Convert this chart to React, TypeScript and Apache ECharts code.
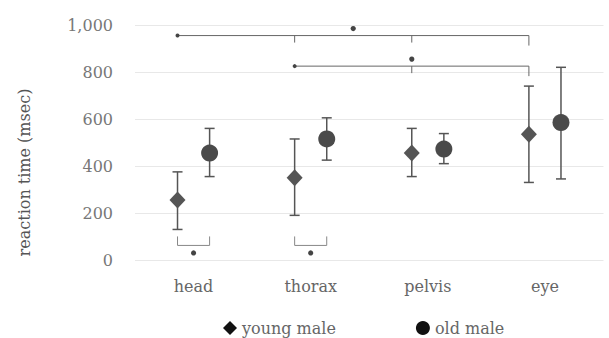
import React, { useEffect, useRef } from "react";
import * as echarts from "echarts";

const categories = ["head", "thorax", "pelvis", "eye"];
const youngMean = [255, 350, 455, 535];
const youngLow = [130, 190, 355, 330];
const youngHigh = [375, 515, 560, 740];
const oldMean = [455, 515, 472, 585];
const oldLow = [355, 425, 410, 345];
const oldHigh = [560, 605, 538, 820];
const yTicks = [0, 200, 400, 600, 800, 1000];

// significance brackets between young-male groups
const bracketFrom = [0, 1];
const bracketTo = [3, 3];
const bracketLevel = [955, 825];
// young vs old within a category
const pairCats = [0, 1];
const pairLevel = 62;

const FONT = "DejaVu Serif";
const OFF = 0.137;

function errorSeries(name: string, mean: number[], lo: number[], hi: number[], sign: number, shape: string, color: string) {
  return {
    type: "custom",
    name,
    data: mean.map((m, i) => [i, m, lo[i], hi[i]]),
    encode: { x: 0, y: [1, 2, 3] },
    itemStyle: { color },
    renderItem: (params: any, api: any) => {
      const cat = api.value(0);
      const pm = api.coord([cat, api.value(1)]);
      const pl = api.coord([cat, api.value(2)]);
      const ph = api.coord([cat, api.value(3)]);
      const band = api.size([1, 0])[0];
      const x = pm[0] + sign * band * OFF;
      const y = pm[1];
      const stroke = { stroke: "#555", lineWidth: 1.5 };
      const cap = 5;
      const marker =
        shape === "diamond"
          ? { type: "polygon", shape: { points: [[x, y - 8.5], [x + 8, y], [x, y + 8.5], [x - 8, y]] }, style: { fill: color } }
          : { type: "circle", shape: { cx: x, cy: y, r: 8.5 }, style: { fill: color } };
      return {
        type: "group",
        children: [
          { type: "line", shape: { x1: x, y1: pl[1], x2: x, y2: ph[1] }, style: stroke },
          { type: "line", shape: { x1: x - cap, y1: pl[1], x2: x + cap, y2: pl[1] }, style: stroke },
          { type: "line", shape: { x1: x - cap, y1: ph[1], x2: x + cap, y2: ph[1] }, style: stroke },
          marker,
        ],
      };
    },
  };
}

export default function App() {
  const ref = useRef<HTMLDivElement>(null);
  useEffect(() => {
    if (!ref.current) return;
    const chart = echarts.init(ref.current, null, { renderer: "svg" });
    const lineStyle = { stroke: "#666", lineWidth: 1 };
    const star = (x: number, y: number) => ({
      type: "circle",
      shape: { cx: x, cy: y, r: 2.6 },
      style: { fill: "#444" },
    });
    chart.setOption({
      animation: false,
      grid: { left: 135, right: 5.5, top: 25, bottom: 78 },
      legend: {
        left: 218,
        top: 315,
        itemWidth: 14,
        itemHeight: 14,
        itemGap: 80,
        textStyle: { fontFamily: FONT, fontSize: 16, color: "#666" },
        data: [
          { name: "young male", icon: "diamond", itemStyle: { color: "#111" } },
          { name: "old male", icon: "circle", itemStyle: { color: "#111" } },
        ],
      },
      xAxis: {
        type: "category",
        data: categories,
        axisLine: { show: false },
        axisTick: { show: false },
        axisLabel: { fontFamily: FONT, fontSize: 16, color: "#666", margin: 18 },
      },
      yAxis: {
        type: "value",
        min: 0,
        max: 1000,
        interval: 200,
        name: "reaction time (msec)",
        nameLocation: "middle",
        nameGap: 103,
        nameTextStyle: { fontFamily: FONT, fontSize: 16, color: "#555", padding: [0, 60, 0, 0] },
        axisLine: { show: false },
        axisTick: { show: false },
        splitLine: { lineStyle: { color: "#e8e8e8", width: 1 } },
        axisLabel: {
          fontFamily: FONT,
          fontSize: 16,
          color: "#777",
          margin: 22,
          formatter: (v: number) => (yTicks.includes(v) ? v.toLocaleString("en-US") : ""),
        },
      },
      series: [
        errorSeries("young male", youngMean, youngLow, youngHigh, -1, "diamond", "#555"),
        errorSeries("old male", oldMean, oldLow, oldHigh, 1, "circle", "#4a4a4a"),
        {
          type: "custom",
          name: "brackets",
          silent: true,
          data: bracketFrom.map((f, i) => [f, bracketLevel[i]]),
          encode: { x: 0, y: 1 },
          renderItem: (params: any, api: any) => {
            const i = params.dataIndex;
            const band = api.size([1, 0])[0];
            const p0 = api.coord([bracketFrom[i], bracketLevel[i]]);
            const p1 = api.coord([bracketTo[i], bracketLevel[i]]);
            const x0 = p0[0] - band * OFF;
            const x1 = p1[0] - band * OFF;
            const y = p0[1];
            const children: any[] = [
              { type: "line", shape: { x1: x0, y1: y, x2: x1, y2: y }, style: lineStyle },
              { type: "circle", shape: { cx: x0, cy: y, r: 2 }, style: { fill: "#444" } },
            ];
            for (let c = bracketFrom[i] + 1; c <= bracketTo[i]; c++) {
              const px = api.coord([c, bracketLevel[i]])[0] - band * OFF;
              const len = c === bracketTo[i] ? 10 : 7;
              children.push({ type: "line", shape: { x1: px, y1: y, x2: px, y2: y + len }, style: lineStyle });
            }
            children.push(star((x0 + x1) / 2, y - 7));
            return { type: "group", children };
          },
        },
        {
          type: "custom",
          name: "pairs",
          silent: true,
          data: pairCats.map((c) => [c, pairLevel]),
          encode: { x: 0, y: 1 },
          renderItem: (params: any, api: any) => {
            const band = api.size([1, 0])[0];
            const p = api.coord([api.value(0), api.value(1)]);
            const x0 = p[0] - band * OFF;
            const x1 = p[0] + band * OFF;
            const y = p[1];
            const ls = { stroke: "#888", lineWidth: 1 };
            return {
              type: "group",
              children: [
                { type: "line", shape: { x1: x0, y1: y, x2: x1, y2: y }, style: ls },
                { type: "line", shape: { x1: x0, y1: y, x2: x0, y2: y - 9 }, style: ls },
                { type: "line", shape: { x1: x1, y1: y, x2: x1, y2: y - 9 }, style: ls },
                star(p[0], y + 7.5),
              ],
            };
          },
        },
      ],
    });
    return () => chart.dispose();
  }, []);
  return <div ref={ref} style={{ width: 609, height: 338, position: "absolute", left: 0, top: 0 }} />;
}
